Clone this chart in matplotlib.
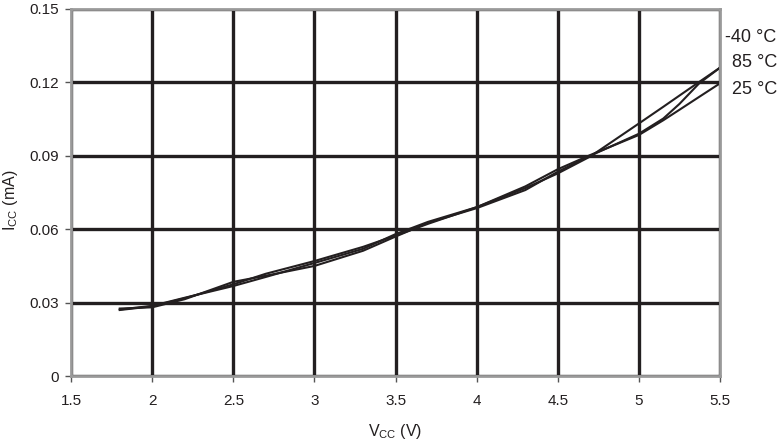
import numpy as np
import matplotlib
matplotlib.use('Agg')
import matplotlib.pyplot as plt

plt.rcParams['font.family'] = ['Liberation Sans', 'DejaVu Sans']
plt.rcParams['mathtext.default'] = 'regular'

# Supply voltage (V) and supply current (mA), one curve per temperature
vcc = [1.8, 2.0, 2.2, 2.5, 2.7, 3.0, 3.3, 3.5, 3.7, 4.0, 4.3, 4.5, 4.7,
       5.0, 5.15, 5.25, 5.37, 5.5]
icc_m40 = [0.0270, 0.0285, 0.0318, 0.0375, 0.0418, 0.0470, 0.0528, 0.0574, 0.0622, 0.0690,
           0.0768, 0.0828, 0.0897, 0.1032, 0.1100, 0.1146, 0.1201, 0.1260]
icc_85 = [0.0276, 0.0281, 0.0314, 0.0385, 0.0410, 0.0450, 0.0512, 0.0570, 0.0626, 0.0686,
          0.0760, 0.0835, 0.0900, 0.0990, 0.1052, 0.1112, 0.1195, 0.1260]
icc_25 = [0.0272, 0.0287, 0.0320, 0.0368, 0.0405, 0.0462, 0.0520, 0.0580, 0.0630, 0.0690,
          0.0775, 0.0845, 0.0903, 0.0985, 0.1045, 0.1088, 0.1140, 0.1196]
labels = ['-40 °C', '85 °C', '25 °C']
label_y = [0.1385, 0.1280, 0.1170]

xticks = [1.5, 2, 2.5, 3, 3.5, 4, 4.5, 5, 5.5]
yticks = [0, 0.03, 0.06, 0.09, 0.12, 0.15]

fig = plt.figure(figsize=(7.81, 4.43), dpi=100)
ax = fig.add_axes([0.091, 0.151, 0.831, 0.829])

ink = '#231f20'
for ys in (icc_m40, icc_85, icc_25):
    ax.plot(vcc, ys, color=ink, lw=1.5, zorder=3)

ax.set_xlim(1.5, 5.5)
ax.set_ylim(0, 0.15)
ax.set_xticks(xticks)
ax.set_xticklabels(['1.5', '2', '2.5', '3', '3.5', '4', '4.5', '5', '5.5'])
ax.set_yticks(yticks)
ax.set_yticklabels(['0', '0.03', '0.06', '0.09', '0.12', '0.15'])
ax.grid(True, color=ink, lw=2.4, zorder=1)
ax.set_axisbelow(True)

for s in ax.spines.values():
    s.set_color('#9a9a9a')
    s.set_linewidth(2)
    s.set_zorder(4)
ax.tick_params(axis='both', direction='out', length=4, width=1, color='#555555',
               labelsize=11, labelcolor=ink)
ax.tick_params(axis='x', pad=9)
ax.tick_params(axis='y', pad=5)

ax.set_xlabel('V$_{CC}$ (V)', fontsize=11.5, color=ink, labelpad=10)
ax.set_ylabel('I$_{CC}$ (mA)', fontsize=11.5, color=ink)
ax.yaxis.set_label_coords(-0.078, 0.48)

for lab, y in zip(labels, label_y):
    x = 5.53 if lab.startswith('-') else 5.572
    ax.text(x, y, lab, fontsize=13, color=ink, va='center', ha='left', clip_on=False)

fig.savefig('out.png', dpi=100)
